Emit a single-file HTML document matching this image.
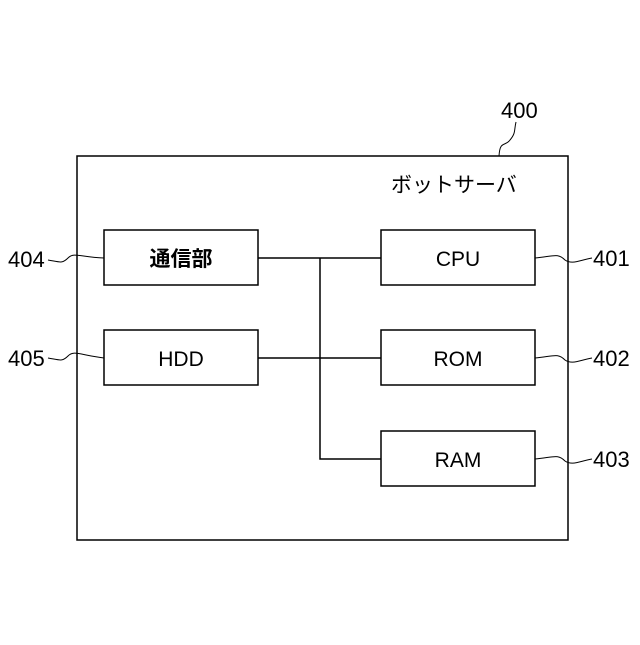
<!DOCTYPE html>
<html><head><meta charset="utf-8"><style>
html,body{margin:0;padding:0;background:#fff;}
svg text{font-family:"Liberation Sans","Noto Sans CJK JP",sans-serif;fill:#000;}
</style></head><body>
<svg width="640" height="640" viewBox="0 0 640 640" xmlns="http://www.w3.org/2000/svg">
<g fill="none" stroke="#000" stroke-width="1.5">
<rect x="77" y="156" width="491" height="384"/>
<rect x="104" y="230" width="154" height="55"/>
<rect x="104" y="330" width="154" height="55"/>
<rect x="381" y="230" width="154" height="55"/>
<rect x="381" y="330" width="154" height="55"/>
<rect x="381" y="431" width="154" height="55"/>
<path d="M258 258H381M258 358H381M320 258V459H381"/>
<path stroke-width="1" d="M499 156C500 140 505 147 510 140C516 133 514 130 516 122"/>
<path stroke-width="1" d="M48 260C60 262 62 264 68 258C74 252 80 257 104 258"/>
<path stroke-width="1" d="M48 358C60 360 62 362 68 356C74 350 80 355 104 358"/>
<path stroke-width="1" d="M535 258C555 256 558 253 565 260C572 265 580 260 592 258"/>
<path stroke-width="1" d="M535 358C555 356 558 353 565 360C572 365 580 360 592 358"/>
<path stroke-width="1" d="M535 459C555 457 558 454 565 461C572 466 580 461 592 459"/>
</g>
<g font-size="21">
<text x="501" y="118" font-size="22">400</text>
<text x="391" y="192">ボットサーバ</text>
<text x="181" y="266" text-anchor="middle" font-weight="bold">通信部</text>
<text x="181" y="366" text-anchor="middle">HDD</text>
<text x="458" y="266" text-anchor="middle">CPU</text>
<text x="458" y="366" text-anchor="middle">ROM</text>
<text x="458" y="467" text-anchor="middle">RAM</text>
<text x="8" y="267" font-size="22">404</text>
<text x="8" y="366" font-size="22">405</text>
<text x="593" y="266" font-size="22">401</text>
<text x="593" y="366" font-size="22">402</text>
<text x="593" y="467" font-size="22">403</text>
</g>
</svg>
</body></html>
